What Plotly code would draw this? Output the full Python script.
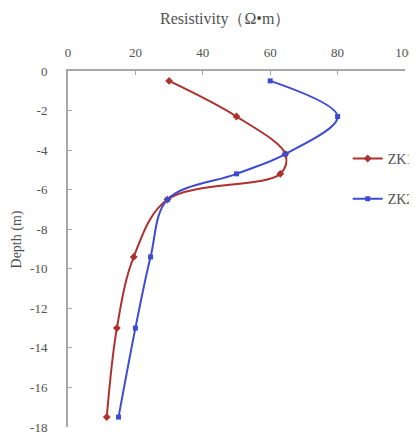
import plotly.graph_objects as go

depth = [-0.5, -2.3, -4.2, -5.2, -6.5, -9.4, -13.0, -17.5]
zk1 = [30, 50, 64.5, 63, 29.5, 19.5, 14.5, 11.5]
zk2 = [60, 80, 64.5, 50, 29.5, 24.5, 20, 15]
series_names = ["ZK1", "ZK2"]
x_ticks = [0, 20, 40, 60, 80, 100]
y_ticks = [0, -2, -4, -6, -8, -10, -12, -14, -16, -18]
y_tick_text = ["0", "-2", "-4", "-6", "-8", "-10", "-12", "-14", "-16", "-18"]
x_title = "Resistivity（Ω•m）"
y_title = "Depth (m)"

RED = "#AE312D"
BLUE = "#3C4BD2"
FONT = "Liberation Serif, Times New Roman, serif"
TXT = "#505050"

fig = go.Figure()
fig.add_trace(go.Scatter(
    x=zk1, y=depth, name=series_names[0], mode="lines+markers", legendgroup="a",
    line=dict(color=RED, width=2, shape="spline", smoothing=1),
    marker=dict(symbol="diamond", size=6, color=RED),
))
fig.add_trace(go.Scatter(
    x=zk2, y=depth, name=series_names[1], mode="lines+markers", legendgroup="b",
    line=dict(color=BLUE, width=2, shape="spline", smoothing=1),
    marker=dict(symbol="square", size=5, color=BLUE),
))

fig.update_layout(
    width=417, height=436,
    margin=dict(l=60, r=20, t=63, b=17, autoexpand=False),
    paper_bgcolor="white", plot_bgcolor="white",
    font=dict(family=FONT, size=13, color=TXT),
    showlegend=True,
    legend=dict(x=0.83, y=0.798, xanchor="left", yanchor="top",
                bgcolor="rgba(0,0,0,0)", tracegroupgap=19,
                font=dict(family=FONT, size=14, color=TXT)),
    xaxis=dict(
        side="top", range=[0, 100], tickvals=x_ticks, automargin=False,
        showgrid=False, zeroline=False,
        showline=True, linecolor="#A8A8A8", linewidth=2,
        ticks="inside", ticklen=4, tickcolor="#A8A8A8",
        ticklabelstandoff=7,
        tickfont=dict(family=FONT, size=13, color=TXT),
    ),
    yaxis=dict(
        range=[-18, 0], tickvals=y_ticks, ticktext=y_tick_text, automargin=False,
        showgrid=False, zeroline=False,
        showline=True, linecolor="#A8A8A8", linewidth=2,
        ticks="inside", ticklen=4, tickcolor="#A8A8A8",
        ticklabelstandoff=16,
        tickfont=dict(family=FONT, size=13, color=TXT),
    ),
    annotations=[
        dict(text=x_title, xref="paper", yref="paper", x=0.466, y=1.147,
             xanchor="center", yanchor="middle", showarrow=False,
             font=dict(family=FONT, size=16, color=TXT)),
        dict(text=y_title, xref="paper", yref="paper", x=-0.15, y=0.528,
             xanchor="center", yanchor="middle", showarrow=False, textangle=-90,
             font=dict(family=FONT, size=14, color=TXT)),
    ],
)

fig.write_html("out.html")
